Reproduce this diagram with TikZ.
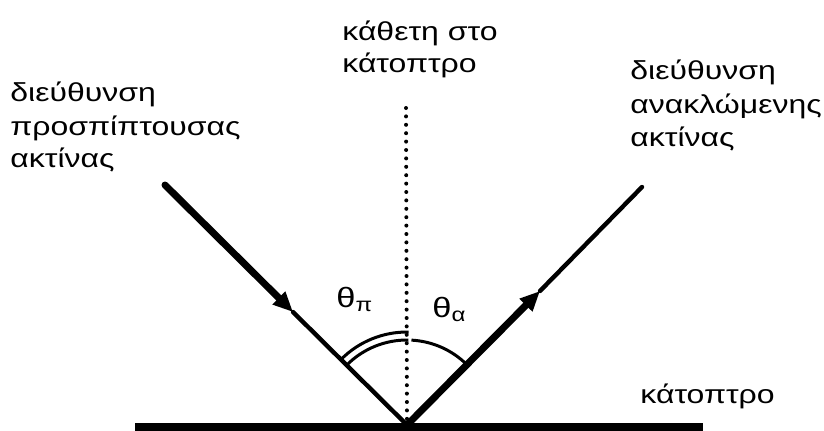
\documentclass[tikz,border=0pt]{standalone}
\usepackage{fontspec}
\setmainfont[FakeStretch=1.23]{Liberation Sans}
\usetikzlibrary{arrows.meta}
\tikzset{
  lbl/.style={anchor=base west, inner sep=0pt, font=\fontsize{13}{16}\selectfont},
  theta/.style={anchor=base west, inner sep=0pt, font=\fontsize{14}{17}\selectfont},
  thickray/.style={line width=3.5pt, line cap=round},
  thinray/.style={line width=2.2pt, line cap=round},
  arrowed/.style={-{Triangle[length=10pt,width=8.5pt]}},
  mirror/.style={line width=4pt},
  normalline/.style={line width=2pt, line cap=round, dash pattern=on 0pt off 4.2pt},
  anglearc/.style={line width=1.5pt}
}
\begin{document}
\begin{tikzpicture}[x=0.5pt,y=-0.5pt]
\useasboundingbox (0,0) rectangle (824,430);
% key points
\coordinate (O) at (407,425);
\coordinate (inS) at (165,185);
\coordinate (inA) at (293,312);
\coordinate (reA) at (540,291);
\coordinate (reE) at (642,187);
\coordinate (nT) at (406,108);
\coordinate (mL) at (135,427);
\coordinate (mR) at (703,427);
% mirror
\draw[mirror] (mL) -- (mR);
% normal
\draw[normalline] (nT) -- (O);
% incident ray
\draw[thickray,arrowed] (inS) -- (inA);
\draw[thinray] (inA) -- (O);
% reflected ray
\draw[thickray,arrowed] (O) -- (reA);
\draw[thinray] (reA) -- (reE);
% angle arcs
\draw[anglearc] ([shift={(225:93)}]O) arc[start angle=225, end angle=271, radius=93];
\draw[anglearc] ([shift={(225:85)}]O) arc[start angle=225, end angle=271, radius=85];
\draw[anglearc] ([shift={(273:85)}]O) arc[start angle=273, end angle=315, radius=85];
% labels
\node[theta] (tp) at (336,307) {θ\textsubscript{π}};
\node[theta] (ta) at (432,317) {θ\textsubscript{α}};
\node[lbl] (l1) at (10,101) {διεύθυνση};
\node[lbl] (l2) at (10,135) {προσπίπτουσας};
\node[lbl] (l3) at (10,167) {ακτίνας};
\node[lbl] (r1) at (630,79) {διεύθυνση};
\node[lbl] (r2) at (630,113) {ανακλώμενης};
\node[lbl] (r3) at (630,146) {ακτίνας};
\node[lbl] (n1) at (342,40) {κάθετη στο};
\node[lbl] (n2) at (342,72) {κάτοπτρο};
\node[lbl] (m1) at (640,403) {κάτοπτρο};
\end{tikzpicture}
\end{document}
